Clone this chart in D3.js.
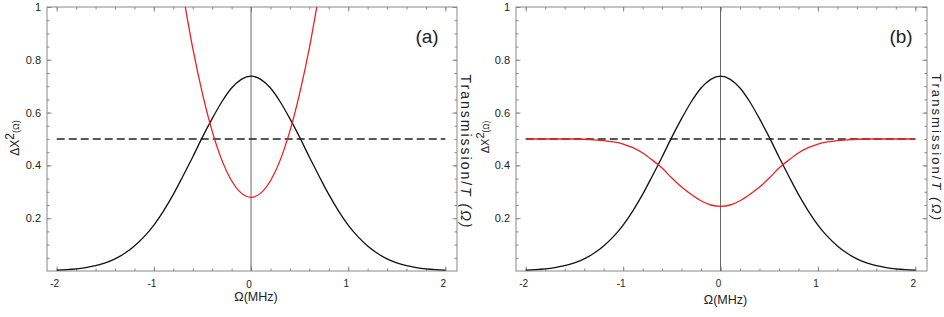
<!DOCTYPE html>
<html>
<head>
<meta charset="utf-8">
<script src="https://cdn.jsdelivr.net/npm/d3@7"></script>
<style>
  body { margin: 0; background: #fff; }
  text { font-family: "Liberation Sans", Arial, sans-serif; fill: #222; }
</style>
</head>
<body>
<script>
// frequency grid (MHz)
var omega = [-2.0,-1.9,-1.8,-1.7,-1.6,-1.5,-1.4,-1.3,-1.2,-1.1,-1.0,-0.9,-0.8,-0.7,-0.6,-0.5,-0.4,-0.3,-0.2,-0.1,
              0.0, 0.1, 0.2, 0.3, 0.4, 0.5, 0.6, 0.7, 0.8, 0.9, 1.0, 1.1, 1.2, 1.3, 1.4, 1.5, 1.6, 1.7, 1.8, 1.9, 2.0];
// black curve, squeezing spectrum (same in a and b)
var squeeze = [0.003,0.005,0.008,0.013,0.02,0.031,0.046,0.067,0.095,0.13,0.174,0.228,0.29,0.36,0.432,0.507,0.577,0.641,0.693,0.726,
               0.738,0.726,0.693,0.641,0.577,0.507,0.432,0.36,0.29,0.228,0.174,0.13,0.095,0.067,0.046,0.031,0.02,0.013,0.008,0.005,0.003];
// red curve panel (a)
var omegaA = [-0.7,-0.6,-0.5,-0.4,-0.3,-0.2,-0.1,0.0,0.1,0.2,0.3,0.4,0.5,0.6,0.7];
var transA = [1.05,0.844,0.672,0.53,0.42,0.342,0.295,0.279,0.295,0.342,0.42,0.53,0.672,0.844,1.05];
// red curve panel (b)
var transB = [0.5,0.5,0.5,0.5,0.5,0.5,0.499,0.497,0.494,0.489,0.481,0.467,0.447,0.42,0.39,0.352,0.318,0.29,0.266,0.25,
              0.245,0.25,0.266,0.29,0.318,0.352,0.39,0.42,0.447,0.467,0.481,0.489,0.494,0.497,0.499,0.5,0.5,0.5,0.5,0.5,0.5];
// dashed reference level
var dashX = [-2, 2];
var dashY = [0.5, 0.5];
// ticks
var xMajor = [-2, -1, 0, 1, 2];
var xMinor = d3.range(-20, 21, 2).map(function(v){ return v / 10; });
var yMajor = [0.2, 0.4, 0.6, 0.8, 1];
var yMinor = d3.range(1, 21).map(function(v){ return v / 20; });

var svg = d3.select("body").append("svg")
    .attr("width", 944)
    .attr("height", 317);

function panel(p) {
  var x = d3.scaleLinear().domain([-2.1, 2.12]).range([p.left, p.right]);
  var y = d3.scaleLinear().domain([0, 1]).range([271, 7]);
  var g = svg.append("g");

  g.append("clipPath").attr("id", "clip" + p.id)
    .append("rect").attr("x", p.left).attr("y", 7)
    .attr("width", p.right - p.left).attr("height", 264);

  // ticks on all four sides, pointing inward
  function ticks(axis, vals, len, tr) {
    var a = g.append("g").attr("transform", tr)
      .call(axis.tickValues(vals).tickSize(len).tickFormat(""));
    a.select(".domain").remove();
    a.selectAll("line").attr("stroke", "#888");
  }
  ticks(d3.axisBottom(x), xMinor, -2.5, "translate(0,271)");
  ticks(d3.axisBottom(x), xMajor, -4.5, "translate(0,271)");
  ticks(d3.axisTop(x), xMinor, -2.5, "translate(0,7)");
  ticks(d3.axisTop(x), xMajor, -4.5, "translate(0,7)");
  ticks(d3.axisLeft(y), yMinor, -2.5, "translate(" + p.left + ",0)");
  ticks(d3.axisLeft(y), yMajor, -4.5, "translate(" + p.left + ",0)");
  ticks(d3.axisRight(y), yMinor, -2.5, "translate(" + p.right + ",0)");
  ticks(d3.axisRight(y), yMajor, -4.5, "translate(" + p.right + ",0)");

  g.append("rect").attr("x", p.left).attr("y", 7)
    .attr("width", p.right - p.left).attr("height", 264)
    .attr("fill", "none").attr("stroke", "#888").attr("stroke-width", 1);

  // tick labels
  g.selectAll(".yl").data(yMajor).enter().append("text")
    .attr("x", p.left - 6).attr("y", function(d){ return y(d) + 4; })
    .attr("text-anchor", "end").attr("font-size", 11)
    .text(function(d){ return d; });
  g.selectAll(".xl").data(xMajor).enter().append("text")
    .attr("x", function(d){ return x(d) - 2; })
    .attr("y", function(d){ return (p.id == "a" && d == 0) ? 288 : 287; })
    .attr("text-anchor", "middle").attr("font-size", 10)
    .text(function(d){ return d; });

  // vertical line at zero
  g.append("line").attr("x1", x(0)).attr("x2", x(0))
    .attr("y1", 7).attr("y2", 271)
    .attr("stroke", "#666").attr("stroke-width", 1);

  var line = d3.line().curve(d3.curveMonotoneX)
    .x(function(d){ return x(d[0]); }).y(function(d){ return y(d[1]); });

  g.append("path").datum(d3.zip(dashX, dashY)).attr("d", line)
    .attr("fill", "none").attr("stroke", "#222").attr("stroke-width", 1.4)
    .attr("stroke-dasharray", "8,4");

  g.append("path").datum(d3.zip(omega, squeeze)).attr("d", line)
    .attr("fill", "none").attr("stroke", "#111").attr("stroke-width", 1.3);

  g.append("path").datum(d3.zip(p.rx, p.ry)).attr("d", line)
    .attr("clip-path", "url(#clip" + p.id + ")")
    .attr("fill", "none").attr("stroke", "#ee2020").attr("stroke-width", 1.3);

  // labels
  g.append("text").attr("x", p.tagX).attr("y", 43)
    .attr("text-anchor", "middle").attr("font-size", 19).text(p.tag);

  g.append("text").attr("x", (p.left + p.right) / 2 + 4).attr("y", p.xlabY)
    .attr("text-anchor", "middle").attr("font-size", 12.5).text("Ω(MHz)");

  var yl = g.append("text")
    .attr("transform", "translate(" + p.ylX + "," + p.ylY + ") rotate(-90)")
    .attr("text-anchor", "middle").attr("font-size", p.ylSize);
  yl.append("tspan").text("ΔX");
  yl.append("tspan").attr("dy", -p.ylSize * 0.45).text("2");
  yl.append("tspan").attr("dy", p.ylSize * 0.45).attr("font-size", p.ylSize * 0.75).text("(Ω)");

  var rl = g.append("text")
    .attr("transform", "translate(" + p.rlX + "," + p.rlY + ") rotate(90)")
    .attr("text-anchor", "middle").attr("font-size", p.rlSize)
    .attr("letter-spacing", p.rlSpace);
  rl.append("tspan").text("Transmission/");
  rl.append("tspan").attr("font-style", "italic").text("T (Ω)");
}

panel({ id: "a", left: 47, right: 457, rx: omegaA, ry: transA, tag: "(a)", tagX: 427,
        xlabY: 301, ylX: 19, ylY: 138, ylSize: 12, rlX: 461, rlY: 152, rlSize: 14, rlSpace: 2 });
panel({ id: "b", left: 516, right: 927, rx: omega, ry: transB, tag: "(b)", tagX: 901,
        xlabY: 304, ylX: 489, ylY: 137, ylSize: 11, rlX: 932, rlY: 148, rlSize: 13, rlSpace: 2.1 });
</script>
</body>
</html>
